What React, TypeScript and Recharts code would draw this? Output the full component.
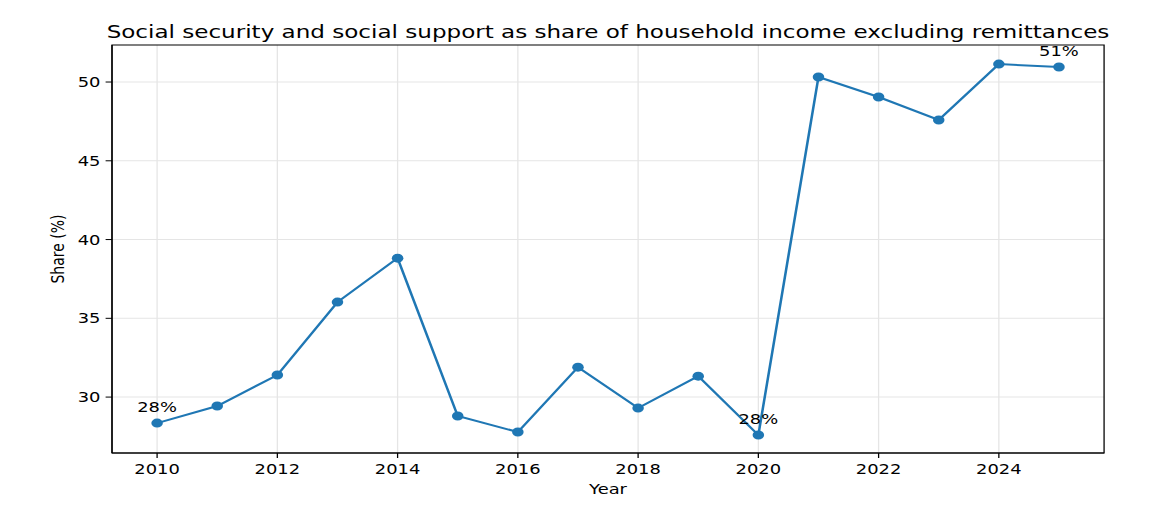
import { LineChart, Line, XAxis, YAxis, CartesianGrid, ReferenceArea, LabelList } from 'recharts'

// the source image is stretched sideways, so the chart is drawn narrower and scaled in x
const SCALE_X = 1.28
const W = 1154 / SCALE_X
const H = 529

const years = [2010, 2011, 2012, 2013, 2014, 2015, 2016, 2017, 2018, 2019, 2020, 2021, 2022, 2023, 2024, 2025]
const share = [28.35, 29.43, 31.4, 36.03, 38.82, 28.8, 27.78, 31.9, 29.3, 31.33, 27.59, 50.32, 49.05, 47.59, 51.14, 50.95]
const labelledYears = [2010, 2020, 2025]
const xTicks = [2010, 2012, 2014, 2016, 2018, 2020, 2022, 2024]
const yTicks = [30, 35, 40, 45, 50]

const X_DOMAIN: [number, number] = [2009.25, 2025.75]
const Y_DOMAIN: [number, number] = [26.45, 52.35]

const data = years.map((y, i) => ({ year: y, share: share[i] }))

const font = '"DejaVu Sans", sans-serif'

function PointLabel(props: any) {
  const { x, y, value, index } = props
  if (!labelledYears.includes(years[index])) return null
  return (
    <text x={x} y={y - 11} textAnchor="middle" fontSize={14} fontFamily={font} fill="#000">
      {`${Math.round(value)}%`}
    </text>
  )
}

export default function App() {
  return (
    <div style={{ position: 'absolute', left: 0, top: 0, width: W, height: H, transform: `scaleX(${SCALE_X})`, transformOrigin: '0 0', background: '#fff' }}>
      <div style={{ position: 'absolute', left: 0, width: 950, top: 21, textAlign: 'center', fontFamily: font, fontSize: 18, lineHeight: '22px', color: '#000', whiteSpace: 'nowrap' }}>
        Social security and social support as share of household income excluding remittances
      </div>
      <LineChart width={W} height={H} data={data} margin={{ top: 45, right: 39, left: 0, bottom: 0 }}>
        <CartesianGrid stroke="#e5e5e5" horizontalValues={yTicks} verticalValues={xTicks} />
        <XAxis
          dataKey="year"
          type="number"
          domain={X_DOMAIN}
          ticks={xTicks}
          height={76}
          tickSize={5}
          tickMargin={6}
          stroke="#000"
          tick={{ fontSize: 14, fontFamily: font, fill: '#000' }}
          label={{ value: 'Year', position: 'center', dy: -2, fontSize: 14, fontFamily: font, fill: '#000' }}
        />
        <YAxis
          type="number"
          domain={Y_DOMAIN}
          ticks={yTicks}
          width={87.5}
          tickSize={5}
          tickMargin={4}
          stroke="#000"
          tick={{ fontSize: 14, fontFamily: font, fill: '#000' }}
          label={{ value: 'Share (%)', angle: -90, position: 'center', dx: 1, fontSize: 14, fontFamily: font, fill: '#000' }}
        />
        <ReferenceArea x1={X_DOMAIN[0]} x2={X_DOMAIN[1]} y1={Y_DOMAIN[0]} y2={Y_DOMAIN[1]} fill="none" stroke="#000" strokeOpacity={1} fillOpacity={0} />
        <Line
          dataKey="share"
          stroke="#1f77b4"
          strokeWidth={2}
          dot={{ r: 4.5, fill: '#1f77b4', stroke: '#1f77b4', strokeWidth: 0 }}
          activeDot={false}
          isAnimationActive={false}
        >
          <LabelList dataKey="share" content={PointLabel} />
        </Line>
      </LineChart>
    </div>
  )
}
